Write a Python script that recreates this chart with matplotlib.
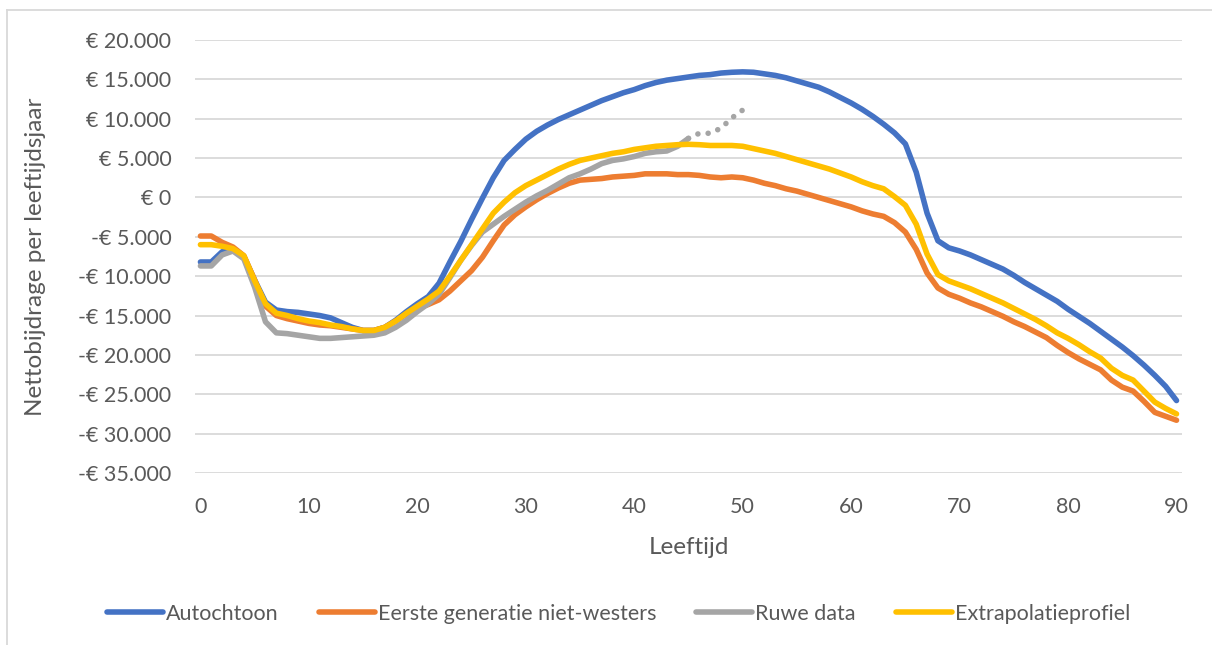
import matplotlib
matplotlib.use("Agg")
import matplotlib.pyplot as plt
from matplotlib.lines import Line2D
from matplotlib.ticker import FuncFormatter, MultipleLocator

plt.rcParams['font.family'] = ['Lato', 'DejaVu Sans']

# Netto bijdrage per leeftijdsjaar, in duizenden euro's, leeftijd 0..90
leeftijd = list(range(91))

autochtoon = [
    -8.2, -8.2, -6.9, -6.6, -7.5, -10.5, -13.3, -14.3, -14.5, -14.6,
    -14.8, -15.0, -15.3, -15.9, -16.5, -16.9, -16.9, -16.5, -15.6, -14.5,
    -13.5, -12.6, -10.9, -8.2, -5.6, -2.8, -0.1, 2.5, 4.7, 6.1,
    7.4, 8.4, 9.2, 9.9, 10.5, 11.1, 11.7, 12.3, 12.8, 13.3,
    13.7, 14.2, 14.6, 14.9, 15.1, 15.3, 15.5, 15.6, 15.8, 15.9,
    15.95, 15.9, 15.7, 15.5, 15.2, 14.8, 14.4, 14.0, 13.4, 12.7,
    12.0, 11.2, 10.3, 9.3, 8.2, 6.8, 3.2, -2.0, -5.5, -6.4,
    -6.8, -7.3, -7.9, -8.5, -9.1, -9.9, -10.8, -11.6, -12.4, -13.2,
    -14.2, -15.1, -16.0, -17.0, -18.0, -19.0, -20.1, -21.3, -22.6, -24.0,
    -25.8,
]

eerste_generatie = [
    -4.9, -4.9, -5.7, -6.3, -7.4, -10.5, -13.8, -15.0, -15.4, -15.7,
    -16.0, -16.2, -16.3, -16.5, -16.7, -16.9, -16.9, -16.5, -15.7, -14.8,
    -14.1, -13.6, -13.0, -11.9, -10.6, -9.3, -7.6, -5.5, -3.5, -2.2,
    -1.2, -0.3, 0.5, 1.2, 1.8, 2.2, 2.3, 2.4, 2.6, 2.7,
    2.8, 3.0, 3.0, 3.0, 2.9, 2.9, 2.8, 2.6, 2.5, 2.6,
    2.5, 2.2, 1.8, 1.5, 1.1, 0.8, 0.4, 0.0, -0.4, -0.8,
    -1.2, -1.7, -2.1, -2.4, -3.2, -4.4, -6.6, -9.6, -11.5, -12.3,
    -12.8, -13.4, -13.9, -14.5, -15.1, -15.8, -16.4, -17.1, -17.8, -18.8,
    -19.7, -20.5, -21.2, -21.9, -23.2, -24.1, -24.6, -25.9, -27.3, -27.8,
    -28.3,
]

# ruwe data loopt tot 50 jaar, vanaf 45 stippellijn
ruwe_data = [
    -8.7, -8.7, -7.3, -6.8, -7.8, -11.4, -15.8, -17.2, -17.3, -17.5,
    -17.7, -17.9, -17.9, -17.8, -17.7, -17.6, -17.5, -17.2, -16.5, -15.6,
    -14.5, -13.5, -12.3, -10.2, -8.0, -6.1, -4.4, -3.4, -2.4, -1.5,
    -0.6, 0.2, 0.9, 1.7, 2.5, 3.0, 3.6, 4.3, 4.7, 4.9,
    5.2, 5.6, 5.8, 5.9, 6.5, 7.5, 8.15, 8.15, 8.8, 10.1,
    11.1,
]
ruwe_data_solid_tot = 45

extrapolatie = [
    -6.0, -6.0, -6.2, -6.5, -7.4, -10.6, -13.5, -14.7, -15.0, -15.4,
    -15.7, -15.9, -16.2, -16.4, -16.7, -16.9, -16.9, -16.5, -15.7, -14.7,
    -13.8, -12.9, -11.9, -10.0, -8.0, -6.0, -4.0, -2.0, -0.6, 0.6,
    1.5, 2.2, 2.9, 3.6, 4.2, 4.7, 5.0, 5.3, 5.6, 5.8,
    6.1, 6.3, 6.5, 6.6, 6.7, 6.75, 6.7, 6.6, 6.6, 6.6,
    6.5, 6.2, 5.9, 5.6, 5.2, 4.8, 4.4, 4.0, 3.6, 3.1,
    2.6, 2.0, 1.5, 1.1, 0.1, -1.0, -3.4, -7.2, -9.8, -10.6,
    -11.1, -11.6, -12.2, -12.8, -13.4, -14.1, -14.8, -15.5, -16.3, -17.2,
    -17.9, -18.7, -19.6, -20.4, -21.7, -22.6, -23.2, -24.6, -26.0, -26.8,
    -27.5,
]

labels = ["Autochtoon", "Eerste generatie niet-westers", "Ruwe data", "Extrapolatieprofiel"]
colors = ["#4472C4", "#ED7D31", "#A5A5A5", "#FFC000"]
text_color = "#595959"
grid_color = "#D9D9D9"
lw = 4.0


def euro(v, pos):
    s = "{:,.0f}".format(abs(v)).replace(",", ".")
    return ("-€ " if v < 0 else "€ ") + s


fig = plt.figure(figsize=(12.12, 6.45), dpi=100)
ax = fig.add_axes([0.1609, 0.2667, 0.8143, 0.6713])

k = 1000
ax.plot(leeftijd, [v * k for v in autochtoon], color=colors[0], lw=lw, solid_capstyle='round', solid_joinstyle='round')
ax.plot(leeftijd, [v * k for v in eerste_generatie], color=colors[1], lw=lw, solid_capstyle='round', solid_joinstyle='round')
n = ruwe_data_solid_tot
ax.plot(leeftijd[:n + 1], [v * k for v in ruwe_data[:n + 1]], color=colors[2], lw=lw,
        solid_capstyle='round', solid_joinstyle='round')
ax.plot(leeftijd[n:len(ruwe_data)], [v * k for v in ruwe_data[n:]], color=colors[2], lw=lw,
        linestyle=(0, (0.01, 1.86)), dash_capstyle='round')
ax.plot(leeftijd, [v * k for v in extrapolatie], color=colors[3], lw=lw, solid_capstyle='round', solid_joinstyle='round')

ax.set_xlim(-0.5, 90.5)
ax.set_ylim(-35000, 20000)
ax.xaxis.set_major_locator(MultipleLocator(10))
ax.yaxis.set_major_locator(MultipleLocator(5000))
ax.yaxis.set_major_formatter(FuncFormatter(euro))

ax.grid(axis='y', color=grid_color, lw=1.3)
ax.set_axisbelow(True)
for sp in ax.spines.values():
    sp.set_visible(False)
ax.tick_params(axis='both', length=0, labelsize=15.5, colors=text_color)
ax.tick_params(axis='y', pad=17)
ax.tick_params(axis='x', pad=17)

ax.set_xlabel("Leeftijd", fontsize=17.5, color=text_color, labelpad=14.5)
ax.set_ylabel("Nettobijdrage per leeftijdsjaar", fontsize=17.5, color=text_color, labelpad=23)

handles = [Line2D([], [], color=c, lw=lw, solid_capstyle='round') for c in colors]
fig.legend(handles, labels, loc='center', bbox_to_anchor=(0.5103, 1 - 614 / 645), ncol=4,
           frameon=False, fontsize=15.5, labelcolor=text_color, handlelength=2.6,
           handletextpad=0.15, columnspacing=1.85, borderpad=0, borderaxespad=0)

# kader rond de grafiek
fig.add_artist(Line2D([7 / 1212, 7 / 1212], [0, 1 - 10 / 645], color=grid_color, lw=1.3,
                      transform=fig.transFigure))
fig.add_artist(Line2D([7 / 1212, 1], [1 - 10 / 645, 1 - 10 / 645], color=grid_color, lw=1.3,
                      transform=fig.transFigure))

fig.savefig("out.png", dpi=100)
